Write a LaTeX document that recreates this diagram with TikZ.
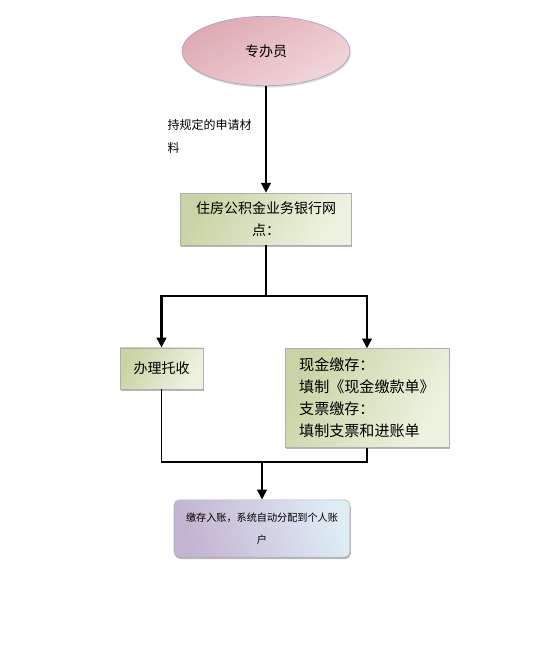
\documentclass[tikz,border=0pt]{standalone}
\usepackage{fontspec}
\setmainfont{Noto Sans CJK SC}
\usetikzlibrary{arrows.meta,positioning,shapes.geometric,shadows}
\definecolor{pinkA}{RGB}{222,170,178}
\definecolor{pinkB}{RGB}{242,214,218}
\definecolor{greenA}{RGB}{200,212,165}
\definecolor{greenB}{RGB}{238,243,225}
\definecolor{blueA}{RGB}{196,180,210}
\definecolor{blueB}{RGB}{222,236,244}
\definecolor{rimgray}{RGB}{175,175,175}

\begin{document}
\begin{tikzpicture}[x=0.75pt, y=-0.75pt,
  every node/.style={font=\fontsize{10.5}{16}\selectfont},
  box/.style={draw=rimgray, line width=0.4pt, inner sep=4pt,
    drop shadow={shadow xshift=0.6pt, shadow yshift=-1.4pt, fill=gray!70, opacity=0.8}},
  gbox/.style={box, left color=greenA, right color=greenB, shading angle=60},
  edge/.style={-{Triangle[length=2.6mm, width=2.5mm]}, line width=2.1pt},
  thick line/.style={line width=2.1pt},
  lab/.style={font=\fontsize{9}{17}\selectfont, align=left, anchor=west}]
  \useasboundingbox (0,0) rectangle (553,664);
  \node[ellipse, draw={rgb,255:red,170;green,160;blue,200}, line width=0.5pt,
    left color=pinkA, right color=pinkB, shading angle=30,
    minimum width=126pt, minimum height=52pt,
    drop shadow={shadow xshift=0.6pt, shadow yshift=-1.4pt, fill=gray!60}] (staff) at (266,51) {专办员};
  \node[gbox, minimum width=128pt, minimum height=39pt, align=center] (bank) at (266,219)
    {住房公积金业务银行网\\点：};
  \node[gbox, minimum width=62pt, minimum height=31pt] (collect) at (161.5,368.5) {办理托收};
  \node[gbox, minimum width=123pt, minimum height=74pt, align=left,
    font=\fontsize{11.3}{16.5}\selectfont] (deposit) at (367,398)
    {现金缴存：\\填制《现金缴款单》\\支票缴存：\\填制支票和进账单};
  \node[box, rounded corners=4pt, left color=blueA, right color=blueB, shading angle=110,
    minimum width=132pt, minimum height=43pt, align=center,
    font=\fontsize{7.6}{16.5}\selectfont] (account) at (262,528.5)
    {缴存入账，系统自动分配到个人账\\户};
  \node[lab] (material) at (163,136.5) {持规定的申请材\\料};
  \coordinate (split) at (266,296);
  \coordinate (merge) at (262,462);
  \draw[edge] (staff) -- (bank);
  \draw[thick line] (bank.south) -- (split);
  \draw[edge] (split) -| (collect.north);
  \draw[edge] (split) -| (deposit.north);
  \draw[line width=0.8pt] (collect.south) |- (merge) -| (deposit.south);
  \draw[edge] (merge) -- (account.north);
\end{tikzpicture}
\end{document}
